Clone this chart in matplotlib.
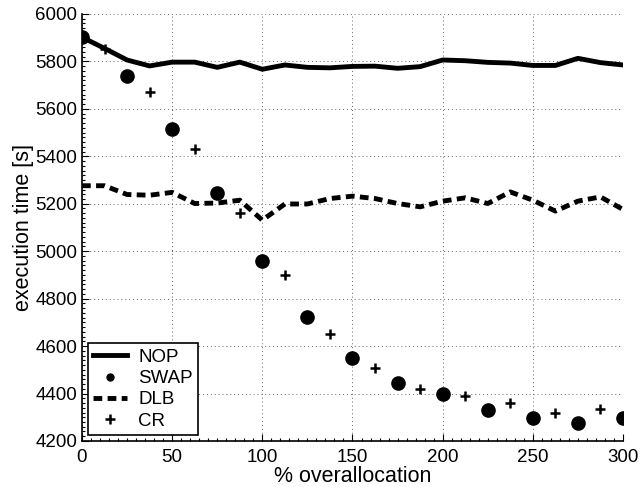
import numpy as np
import matplotlib
matplotlib.use('Agg')
from matplotlib import pyplot as plt
from matplotlib.ticker import MultipleLocator

plt.rcParams['font.family'] = ['Liberation Sans', 'DejaVu Sans']

# x positions (% overallocation)
x_fine = np.arange(0, 300.1, 12.5)
x_swap = np.arange(0, 300.1, 25)
x_cr = np.arange(12.5, 300, 25)

nop = [5902, 5855, 5806, 5781, 5797, 5797, 5775, 5797, 5767, 5785, 5775, 5773, 5779,
       5780, 5771, 5778, 5806, 5803, 5796, 5793, 5783, 5783, 5813, 5795, 5785]
dlb = [5276, 5276, 5239, 5236, 5248, 5201, 5203, 5215, 5131, 5199, 5199, 5222, 5232,
       5222, 5201, 5187, 5211, 5225, 5201, 5250, 5215, 5169, 5211, 5229, 5176]
swap = [5902, 5738, 5515, 5246, 4958, 4723, 4548, 4445, 4397, 4330, 4295, 4276, 4295]
cr = [5851, 5672, 5431, 5162, 4899, 4649, 4506, 4418, 4390, 4358, 4318, 4333]

fig = plt.figure(figsize=(6.42, 4.87), dpi=100)
ax = fig.add_axes([0.1277, 0.0945, 0.8427, 0.8768])

ax.plot(x_fine, nop, 'k-', lw=3.5, label='NOP')
ax.plot(x_swap, swap, 'o', color='k', ms=9.5, label='SWAP')
ax.plot(x_fine, dlb, 'k--', lw=3.5, dashes=(1.8, 1.1), label='DLB')
ax.plot(x_cr, cr, '+', color='k', ms=6.5, mew=1.8, label='CR')

ax.set_xlim(0, 300)
ax.set_ylim(4200, 6000)
ax.xaxis.set_major_locator(MultipleLocator(50))
ax.xaxis.set_minor_locator(MultipleLocator(5))
ax.yaxis.set_major_locator(MultipleLocator(200))
ax.yaxis.set_minor_locator(MultipleLocator(20))
ax.tick_params(which='both', direction='in', labelsize=13.5, width=0.8)
ax.tick_params(which='major', length=5)
ax.tick_params(which='minor', length=2.5)
ax.tick_params(axis='x', which='major', pad=6)
ax.grid(True, which='major', linestyle=(0, (1, 3)), color='#666666', lw=0.7)
ax.spines['top'].set_visible(False)
ax.spines['right'].set_visible(False)
ax.spines['left'].set_linewidth(1.2)
ax.spines['bottom'].set_linewidth(1.2)

ax.set_xlabel('% overallocation', fontsize=15.5, labelpad=0)
ax.set_ylabel('execution time [s]', fontsize=15.5, labelpad=1)

leg = ax.legend(loc='lower left', fontsize=13.5, fancybox=False, framealpha=1,
                edgecolor='k', handlelength=1.8, handletextpad=0.6, borderpad=0.3,
                labelspacing=0.22, borderaxespad=0.3)
leg.get_frame().set_linewidth(1.2)
leg.legend_handles[1].set_markersize(5)

fig.savefig('out.png', dpi=100)
